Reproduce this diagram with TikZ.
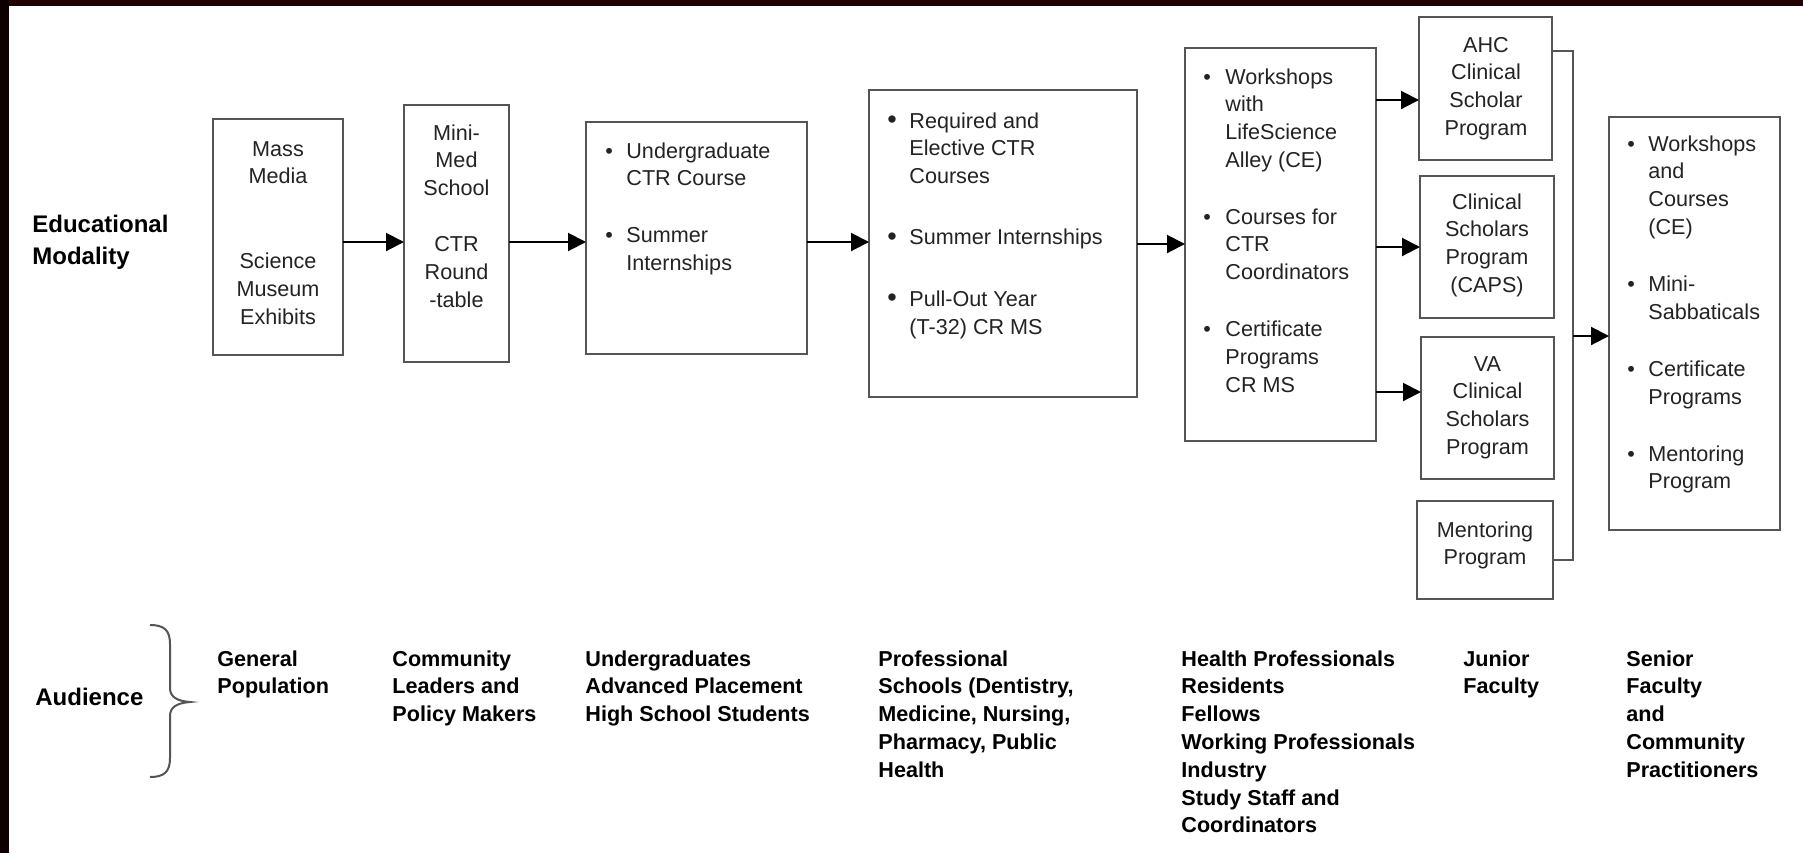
\documentclass[tikz,border=0pt]{standalone}
\usepackage{fontspec}
\setmainfont{Liberation Sans}
\usetikzlibrary{arrows.meta}
\definecolor{framecol}{RGB}{34,0,0}
\definecolor{framecolb}{RGB}{14,0,0}
\definecolor{boxline}{RGB}{85,85,85}
\definecolor{ink}{RGB}{35,35,35}
\newcommand{\boxfont}{\fontsize{10.8}{13.9}\selectfont}
\newcommand{\audfont}{\fontsize{10.8}{13.9}\selectfont\bfseries}
\newcommand{\lblfont}{\fontsize{12}{16}\selectfont\bfseries}
\newcommand{\bu}[1]{\makebox[#1][l]{\textbullet}}
\newcommand{\bigbu}[1]{\makebox[#1][l]{\raisebox{-0.3pt}{\fontsize{13.5}{13.9}\selectfont\textbullet}}}
\tikzset{
  boxnode/.style={draw=boxline, line width=1.1pt, fill=white, inner sep=0pt, outer sep=0pt},
  boxtext/.style={inner sep=0pt, text=ink, font=\boxfont, anchor=base},
  bultext/.style={inner sep=0pt, text=ink, font=\boxfont, anchor=base west},
  audtext/.style={inner sep=0pt, text=black, font=\audfont, anchor=base west},
  lbltext/.style={inner sep=0pt, text=black, font=\lblfont, anchor=base west},
  arr/.style={draw=black, line width=1pt, -{Triangle[length=9pt,width=9pt]}},
  conn/.style={draw=boxline, line width=1.1pt},
}
\begin{document}
\begin{tikzpicture}[x=0.5pt,y=-0.5pt]
\useasboundingbox (0,0) rectangle (1803,853);
\fill[white] (0,0) rectangle (1803,853);
\fill[framecol] (0,0) rectangle (1803,6);
\fill[framecolb] (0,0) rectangle (9,853);

% boxes
\node[boxnode, minimum width=65pt, minimum height=118pt] (b1) at (278,237) {};
\node[boxnode, minimum width=52.5pt, minimum height=128.5pt] (b2) at (456.5,233.5) {};
\node[boxnode, minimum width=110.5pt, minimum height=116pt] (b3) at (696.5,238) {};
\node[boxnode, minimum width=134pt, minimum height=153.5pt] (b4) at (1003,243.5) {};
\node[boxnode, minimum width=95.5pt, minimum height=196.5pt] (b5) at (1280.5,244.5) {};
\node[boxnode, minimum width=66.5pt, minimum height=71.5pt] (ahc) at (1485.5,88.5) {};
\node[boxnode, minimum width=67pt, minimum height=71pt] (caps) at (1487,247) {};
\node[boxnode, minimum width=66.5pt, minimum height=71pt] (va) at (1487.5,408) {};
\node[boxnode, minimum width=68pt, minimum height=49pt] (ment) at (1485,550) {};
\node[boxnode, minimum width=85.5pt, minimum height=206.5pt] (rb) at (1694.5,323.5) {};

% texts in boxes
\node[boxtext] (t1) at (278,156) {\begin{tabular}[t]{@{}c@{}}Mass\\Media\\[28.6pt]Science\\Museum\\Exhibits\end{tabular}};
\node[boxtext] (t2) at (456.5,140) {\begin{tabular}[t]{@{}c@{}}Mini-\\Med\\School\\[14.1pt]CTR\\Round\\-table\end{tabular}};
\node[bultext] (t3) at (605,158) {\begin{tabular}[t]{@{}l@{}l@{}}\bu{10.5pt}&Undergraduate\\&CTR Course\\[14.6pt]\bu{10.5pt}&Summer\\&Internships\end{tabular}};
\node[bultext] (t4) at (887,128) {\begin{tabular}[t]{@{}l@{}l@{}}\bigbu{11pt}&Required and\\&Elective CTR\\&Courses\\[16.75pt]\bigbu{11pt}&Summer Internships\\[16.75pt]\bigbu{11pt}&Pull-Out Year\\&(T-32) CR MS\end{tabular}};
\node[bultext] (t5) at (1203,84) {\begin{tabular}[t]{@{}l@{}l@{}}\bu{11pt}&Workshops\\&with\\&LifeScience\\&Alley (CE)\\[14.45pt]\bu{11pt}&Courses for\\&CTR\\&Coordinators\\[14.45pt]\bu{11pt}&Certificate\\&Programs\\&CR MS\end{tabular}};
\node[boxtext] (tahc) at (1486,52) {\begin{tabular}[t]{@{}c@{}}AHC\\Clinical\\Scholar\\Program\end{tabular}};
\node[boxtext] (tcaps) at (1487,209) {\begin{tabular}[t]{@{}c@{}}Clinical\\Scholars\\Program\\(CAPS)\end{tabular}};
\node[boxtext] (tva) at (1487.5,371) {\begin{tabular}[t]{@{}c@{}}VA\\Clinical\\Scholars\\Program\end{tabular}};
\node[boxtext] (tment) at (1485,537) {\begin{tabular}[t]{@{}c@{}}Mentoring\\Program\end{tabular}};
\node[bultext] (trb) at (1627,151) {\begin{tabular}[t]{@{}l@{}l@{}}\bu{10.5pt}&Workshops\\&and\\&Courses\\&(CE)\\[14.6pt]\bu{10.5pt}&Mini-\\&Sabbaticals\\[14.6pt]\bu{10.5pt}&Certificate\\&Programs\\[14.6pt]\bu{10.5pt}&Mentoring\\&Program\end{tabular}};

% arrows
\draw[arr] (b1.east |- 0,242) -- (b2.west |- 0,242);
\draw[arr] (b2.east |- 0,242) -- (b3.west |- 0,242);
\draw[arr] (b3.east |- 0,242) -- (b4.west |- 0,242);
\draw[arr] (b4.east |- 0,244) -- (b5.west |- 0,244);
\draw[arr] (b5.east |- 0,100) -- (ahc.west |- 0,100);
\draw[arr] (b5.east |- 0,247) -- (caps.west |- 0,247);
\draw[arr] (b5.east |- 0,392) -- (va.west |- 0,392);

% bracket joining AHC and Mentoring
\coordinate (jt) at (1573,51);
\coordinate (jb) at (1573,560);
\coordinate (jm) at (1573,336);
\draw[conn] (ahc.east |- jt) -- (jt) -- (jb) -- (ment.east |- jb);
\draw[arr] (jm) -- (rb.west |- jm);

% left labels
\node[lbltext] (edu) at (32,232) {\begin{tabular}[t]{@{}l@{}}Educational\\Modality\end{tabular}};
\node[lbltext] (aud) at (35,705) {Audience};

% brace
\draw[conn, line width=1pt] (150,625) .. controls (164,625) and (170,630) .. (170,644) -- (170,688) .. controls (170,697) and (177,701) .. (190,702) .. controls (177,703) and (170,707) .. (170,716) -- (170,758) .. controls (170,772) and (164,777) .. (150,777);

% audience columns
\node[audtext] (a1) at (217,666) {\begin{tabular}[t]{@{}l@{}}General\\Population\end{tabular}};
\node[audtext] (a2) at (392,666) {\begin{tabular}[t]{@{}l@{}}Community\\Leaders and\\Policy Makers\end{tabular}};
\node[audtext] (a3) at (585,666) {\begin{tabular}[t]{@{}l@{}}Undergraduates\\Advanced Placement\\High School Students\end{tabular}};
\node[audtext] (a4) at (878,666) {\begin{tabular}[t]{@{}l@{}}Professional\\Schools (Dentistry,\\Medicine, Nursing,\\Pharmacy, Public\\Health\end{tabular}};
\node[audtext] (a5) at (1181,666) {\begin{tabular}[t]{@{}l@{}}Health Professionals\\Residents\\Fellows\\Working Professionals\\Industry\\Study Staff and\\Coordinators\end{tabular}};
\node[audtext] (a6) at (1463,666) {\begin{tabular}[t]{@{}l@{}}Junior\\Faculty\end{tabular}};
\node[audtext] (a7) at (1626,666) {\begin{tabular}[t]{@{}l@{}}Senior\\Faculty\\and\\Community\\Practitioners\end{tabular}};
\end{tikzpicture}
\end{document}
